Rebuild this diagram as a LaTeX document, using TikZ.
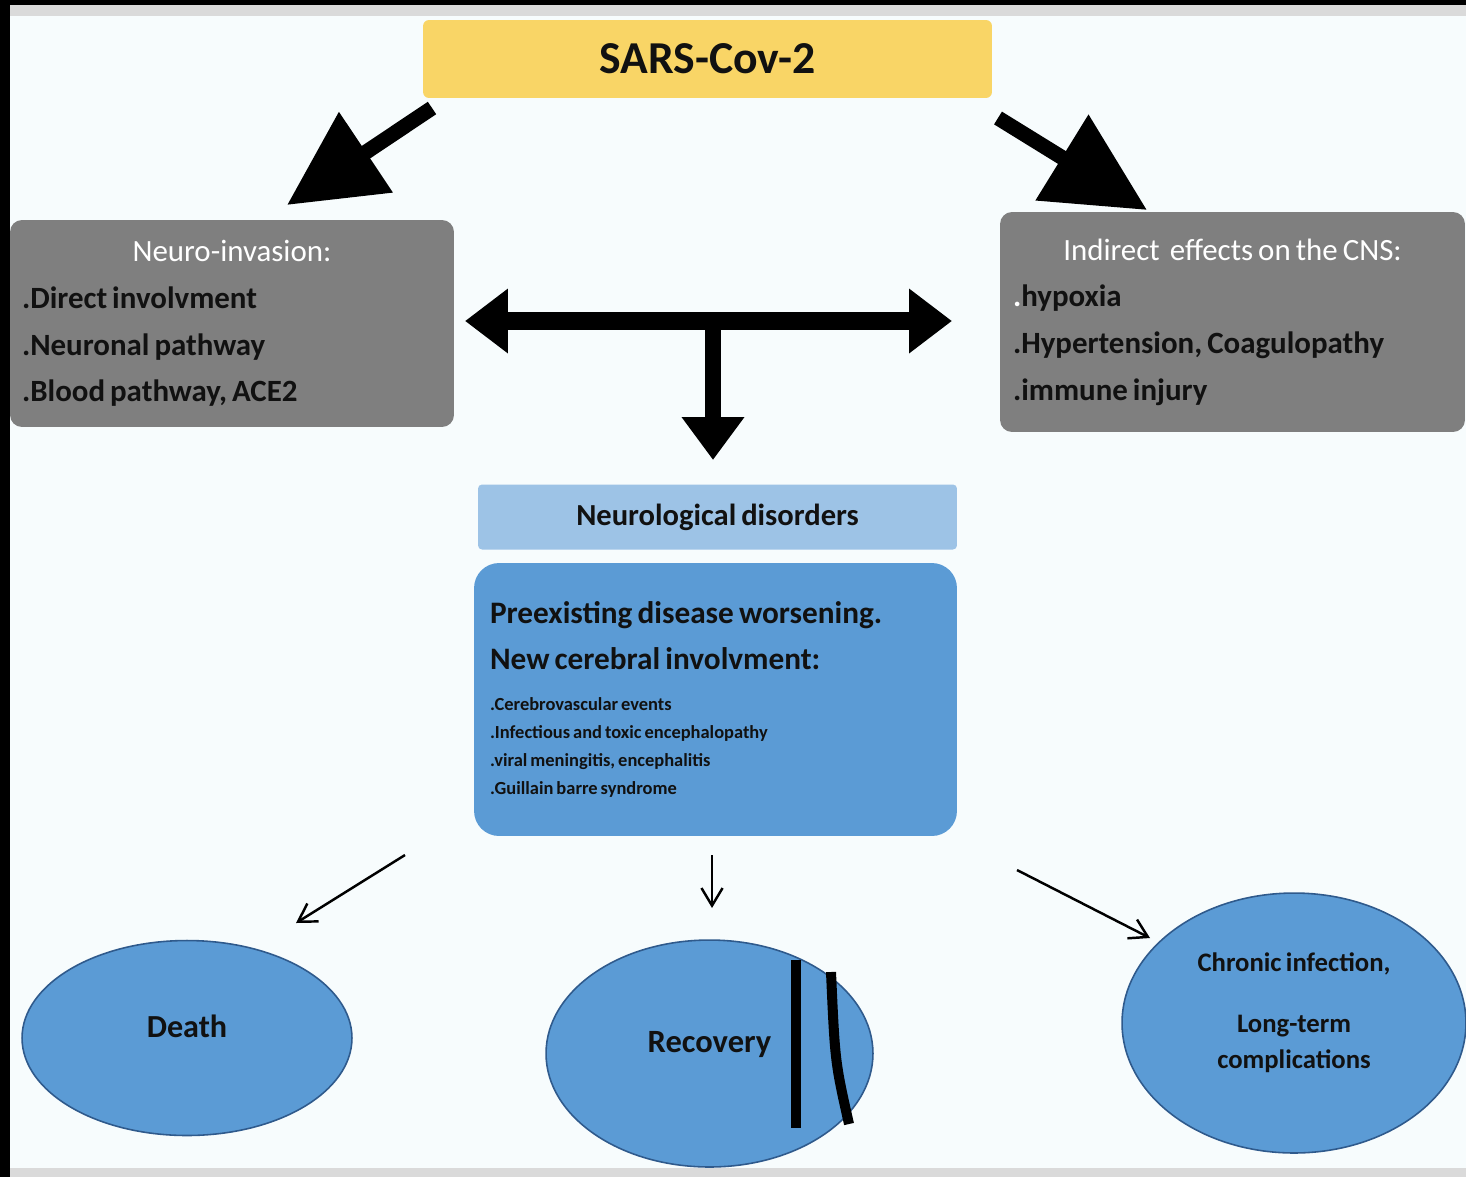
\documentclass[tikz,border=0pt]{standalone}
\usepackage{fontspec}
\setmainfont{Carlito}[WordSpace=0.72]
\usetikzlibrary{arrows.meta,shapes.geometric}
\definecolor{bgpaper}{RGB}{247,252,253}
\definecolor{stripgray}{RGB}{218,218,218}
\definecolor{sarsyellow}{RGB}{249,213,102}
\definecolor{boxgray}{RGB}{127,127,127}
\definecolor{lightblue}{RGB}{157,195,230}
\definecolor{midblue}{RGB}{91,155,213}
\definecolor{edgeblue}{RGB}{47,90,140}
\definecolor{inkblack}{RGB}{17,17,17}
\newcommand{\fs}[2]{\fontsize{#1}{#2}\selectfont}

\begin{document}
\begin{tikzpicture}[x=0.02cm,y=-0.02cm]
    \tikzstyle{gbox}=[fill=boxgray, rounded corners=0.24cm, inner xsep=0.24cm, inner ysep=0pt, align=left, text=inkblack, font=\bfseries\fs{17.6}{26.6}]
    \tikzstyle{outcome}=[ellipse, fill=midblue, draw=edgeblue, line width=0.9pt, inner sep=0pt, text=inkblack, font=\bfseries\fs{18.3}{24}]
    \tikzstyle{bigarrow}=[line width=0.3cm, draw=black]
    \tikzstyle{thinarrow}=[line width=1.4pt, -{Straight Barb[length=10pt,width=12pt]}]
    % frame and paper
    \useasboundingbox (0,0) rectangle (1466,1177);
    \fill[black] (0,0) rectangle (1466,1177);
    \fill[stripgray] (10,5) rectangle (1466,1177);
    \fill[bgpaper] (10,16) rectangle (1466,1168);
    % boxes
    \node[fill=sarsyellow, rounded corners=0.12cm, minimum width=11.38cm, minimum height=1.56cm, font=\bfseries\fs{26}{30}, text=inkblack] (sars) at (707.5,59) {SARS-Cov-2};
    \node[gbox, text width=8.4cm, minimum height=4.14cm] (invasion) at (232,323.5) {\spaceskip0pt\relax\makebox[\linewidth]{\color{white}\mdseries Neuro-invasion:}\\.Direct involvment\\.Neuronal pathway\\.Blood pathway, ACE2};
    \node[gbox, inner xsep=0.26cm, text width=8.78cm, minimum height=4.4cm] (indirect) at (1232.5,322) {\spaceskip0pt\relax\makebox[\linewidth]{\color{white}\mdseries Indirect~ effects on the CNS:}\\{\color{white}.}hypoxia\\.Hypertension, Coagulopathy\\.immune injury};
    \node[fill=lightblue, rounded corners=0.08cm, minimum width=9.58cm, minimum height=1.3cm, font=\bfseries\fs{17.4}{20}, text=inkblack] (disorders) at (717.5,517) {Neurological disorders};
    \node[fill=midblue, rounded corners=0.5cm, inner xsep=0.32cm, inner ysep=0pt, text width=9.02cm, minimum height=5.46cm, align=left, text=inkblack, font=\bfseries] (worsening) at (715.5,699.5) {\spaceskip0pt\relax{\fs{17.8}{26.1}Preexisting disease worsening.\\New cerebral involvment:\par}\vspace{7.3pt}{\fs{10.5}{15.9}.Cerebrovascular events\\.Infectious and toxic encephalopathy\\.viral meningitis, encephalitis\\.Guillain barre syndrome\par}};
    % outcomes
    \node[outcome, minimum width=6.6cm, minimum height=3.9cm, text depth=13.6pt] (death) at (187,1038) {Death};
    \node[outcome, minimum width=6.54cm, minimum height=4.54cm, text depth=12.7pt, font=\bfseries\fs{18.5}{24}] (recovery) at (709.5,1053.5) {Recovery};
    \node[outcome, minimum width=6.88cm, minimum height=5.2cm, align=center, text depth=14.4pt, font=\bfseries\fs{15.2}{20.4}] (chronic) at (1294,1023) {Chronic infection,\\[14.7pt]Long-term\\complications};
    \draw[line width=5.7pt] (796,960) -- (796,1128);
    \draw[line width=5.7pt] (831,972) .. controls (835,1062) .. (849,1124);
    % big arrows
    \coordinate (sl) at (432,108);
    \coordinate (il) at (287,205);
    \coordinate (sr) at (998,118);
    \coordinate (ir) at (1147,210);
    \draw[bigarrow, -{Triangle[length=1.9cm,width=1.86cm]}] (sl) -- (il);
    \draw[bigarrow, -{Triangle[length=2cm,width=1.94cm]}] (sr) -- (ir);
    \coordinate (hl) at (465,321);
    \coordinate (hr) at (952,321);
    \coordinate (hm) at (713,321);
    \coordinate (hd) at (713,460);
    \draw[line width=0.36cm, {Triangle[length=0.86cm,width=1.24cm]}-{Triangle[length=0.86cm,width=1.24cm]}] (hl) -- (hr);
    \draw[line width=0.32cm, -{Triangle[length=0.86cm,width=1.2cm]}] (hm) -- (hd);
    % thin arrows
    \coordinate (t1) at (405,855);
    \coordinate (e1) at (296,923);
    \coordinate (t2) at (712,855);
    \coordinate (e2) at (712,908);
    \coordinate (t3) at (1017,870);
    \coordinate (e3) at (1150,938);
    \draw[thinarrow] (t1) -- (e1);
    \draw[thinarrow] (t2) -- (e2);
    \draw[thinarrow] (t3) -- (e3);
\end{tikzpicture}
\end{document}
